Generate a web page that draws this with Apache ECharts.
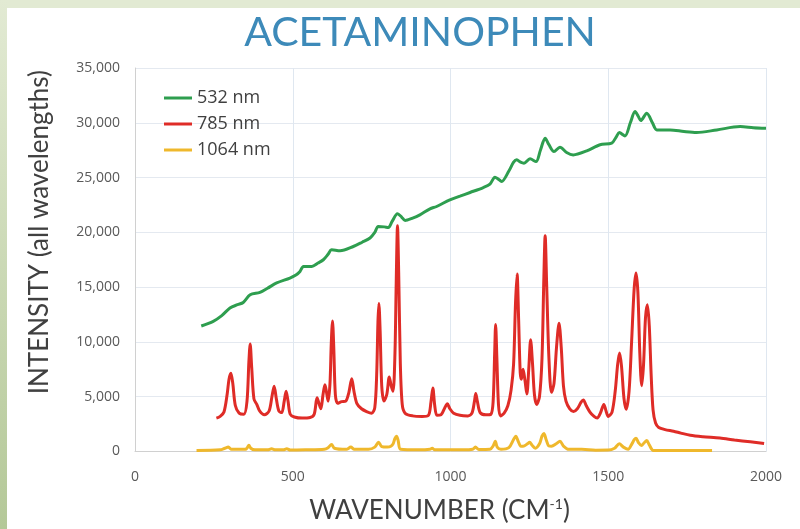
<!DOCTYPE html>
<html>
<head>
<meta charset="utf-8">
<script src="https://cdn.jsdelivr.net/npm/echarts@6/dist/echarts.min.js"></script>
<style>
html,body{margin:0;padding:0;background:#fff;}
#wrap{position:relative;width:800px;height:529px;overflow:hidden;background:#fff;}
#topband{position:absolute;left:0;top:0;width:800px;height:8px;background:#e2ead3;}
#leftband{position:absolute;left:0;top:0;width:7px;height:529px;background:linear-gradient(#e2ead3,#b4c898);}
#chart{position:absolute;left:0;top:0;width:800px;height:529px;}
</style>
</head>
<body>
<div id="wrap"><div id="topband"></div><div id="leftband"></div><div id="chart"></div></div>
<script>
const seriesNames = ['532 nm', '785 nm', '1064 nm'];
const xTicks = [0, 500, 1000, 1500, 2000];
const yTicks = [0, 5000, 10000, 15000, 20000, 25000, 30000, 35000];

const green532 = [[210,11450],[248,11880],[275,12400],[301,13100],[325,13400],[343,13600],[365,14300],[396,14520],[420,14900],[449,15380],[491,15830],[510,16100],[523,16430],[534,16890],[560,16890],[580,17200],[597,17500],[612,18000],[623,18410],[650,18320],[692,18710],[720,19100],[745,19480],[760,20000],[771,20530],[790,20500],[803,20440],[815,21000],[832,21700],[845,21400],[856,21080],[880,21300],[903,21600],[935,22150],[956,22360],[998,22970],[1030,23300],[1062,23640],[1104,24090],[1125,24400],[1141,25040],[1150,24900],[1162,24640],[1185,25600],[1200,26400],[1210,26620],[1222,26400],[1233,26310],[1252,26710],[1271,26460],[1285,27500],[1300,28590],[1312,28000],[1328,27370],[1347,27770],[1368,27290],[1389,27070],[1432,27440],[1474,28000],[1511,28140],[1525,28700],[1535,29110],[1553,28800],[1570,30000],[1585,31020],[1595,30600],[1603,30200],[1622,30870],[1640,30000],[1654,29350],[1696,29350],[1740,29200],[1780,29110],[1844,29350],[1918,29650],[1960,29550],[2000,29500]];

const red785 = [[258,3050],[270,3200],[282,3600],[292,5200],[298,6600],[304,7150],[310,6200],[318,4200],[330,3500],[345,3400],[355,4600],[361,8200],[365,9800],[370,7600],[377,4800],[386,4300],[395,3700],[410,3350],[425,3700],[434,5000],[441,5950],[448,4800],[456,3700],[465,3550],[473,4600],[479,5500],[485,4600],[492,3400],[505,3150],[530,3050],[555,3100],[568,3400],[577,4900],[583,4400],[589,3900],[596,5200],[602,6100],[607,5400],[612,4600],[618,6200],[622,9800],[626,11900],[630,9500],[635,5200],[642,4400],[655,4550],[668,4600],[678,5400],[687,6650],[694,5500],[703,4400],[718,3900],[734,3650],[750,3500],[760,4000],[766,7000],[770,11800],[773,13500],[777,11000],[782,6000],[789,4600],[798,5200],[806,6800],[812,6000],[818,5500],[824,9000],[828,15500],[832,20600],[836,16000],[841,8000],[847,4300],[856,3500],[880,3250],[910,3200],[930,3300],[938,4500],[944,5800],[950,4200],[957,3300],[970,3350],[982,4000],[990,4350],[998,3900],[1010,3500],[1030,3300],[1055,3250],[1068,3500],[1076,4600],[1080,5300],[1085,4600],[1094,3550],[1112,3350],[1128,3400],[1135,4500],[1140,9000],[1143,11600],[1147,8500],[1152,4300],[1158,3250],[1170,3500],[1182,4200],[1192,5600],[1200,8000],[1206,13500],[1211,16200],[1216,12000],[1221,7200],[1225,6600],[1230,7500],[1236,6500],[1242,5250],[1248,7500],[1254,10200],[1260,8000],[1266,5200],[1273,4300],[1282,5000],[1290,8500],[1296,16000],[1300,19700],[1305,15000],[1312,8500],[1320,5400],[1328,6200],[1336,9500],[1344,11700],[1351,9500],[1358,6000],[1366,4600],[1378,3900],[1390,3650],[1402,3900],[1414,4500],[1421,4700],[1430,4200],[1442,3600],[1455,3200],[1465,3050],[1475,3500],[1486,4300],[1493,3700],[1500,3200],[1512,3600],[1522,5500],[1530,8000],[1536,9000],[1542,7800],[1550,4800],[1557,3850],[1566,5500],[1574,10000],[1582,14800],[1588,16300],[1594,14500],[1600,9000],[1606,6000],[1612,8000],[1618,12200],[1624,13400],[1630,11500],[1636,7000],[1642,3800],[1650,2600],[1660,2200],[1680,2000],[1707,1850],[1730,1680],[1760,1480],[1800,1350],[1854,1230],[1900,1050],[1950,880],[1994,720]];

const yellow1064 = [[195,100],[270,150],[285,300],[296,400],[306,200],[350,200],[356,350],[361,580],[367,300],[380,150],[420,150],[433,250],[445,150],[470,150],[481,250],[492,130],[540,150],[600,200],[612,350],[623,640],[632,300],[670,200],[684,400],[695,200],[740,200],[760,400],[772,850],[782,450],[800,400],[811,480],[818,700],[824,1200],[829,1400],[834,1000],[842,200],[900,150],[935,200],[942,300],[950,150],[1040,150],[1070,200],[1079,400],[1090,180],[1125,200],[1135,500],[1142,940],[1148,400],[1160,200],[1185,350],[1200,1100],[1207,1400],[1215,900],[1222,500],[1230,480],[1244,700],[1251,850],[1258,600],[1269,300],[1282,700],[1290,1400],[1296,1640],[1303,1100],[1312,500],[1320,480],[1335,700],[1347,940],[1358,500],[1375,200],[1416,200],[1460,120],[1500,130],[1520,300],[1535,700],[1548,400],[1563,200],[1575,700],[1583,1100],[1588,1200],[1596,800],[1605,550],[1614,800],[1622,1000],[1630,600],[1643,100],[1700,100],[1829,100]];

const colors = ['#2e9e4f', '#df2c27', '#efb82c'];

const chart = echarts.init(document.getElementById('chart'), null, {renderer: 'canvas'});
const mkLine = (name, data, color, z) => ({
  name, type: 'line', data, showSymbol: false, symbol: 'none', smooth: 0.3,
  lineStyle: {color, width: 3}, itemStyle: {color}, z, animation: false
});
chart.setOption({
  backgroundColor: 'transparent',
  animation: false,
  title: {
    text: 'ACETAMINOPHEN', left: 415, top: 7, textAlign: 'center',
    textStyle: {fontFamily: 'Lato', fontSize: 41, fontWeight: 'normal', color: '#3d8ab9'}
  },
  legend: {
    data: seriesNames, orient: 'vertical', left: 159, top: 84,
    icon: 'rect', itemWidth: 28, itemHeight: 3, itemGap: 8,
    textStyle: {fontFamily: 'Open Sans', fontSize: 18, color: '#404040', lineHeight: 18}
  },
  grid: {left: 135, right: 34, top: 68, bottom: 77, containLabel: false},
  xAxis: {
    type: 'value', min: xTicks[0], max: xTicks[xTicks.length - 1], interval: 500,
    name: 'WAVENUMBER (CM{s|-1})', nameLocation: 'middle', nameGap: 46,
    nameTextStyle: {
      fontFamily: 'Lato', fontSize: 26, color: '#404040', padding: [0, 22, 0, 0],
      rich: {s: {fontFamily: 'Lato', fontSize: 14, color: '#404040', padding: [0, 0, 13, 0]}}
    },
    axisLine: {show: true, lineStyle: {color: '#d0d0d0', width: 1}},
    axisTick: {show: false},
    axisLabel: {margin: 19, fontFamily: 'Open Sans', fontSize: 14, color: '#595959', formatter: v => String(v)},
    splitLine: {show: true, lineStyle: {color: '#dfe7f0', width: 1}}
  },
  yAxis: {
    type: 'value', min: yTicks[0], max: yTicks[yTicks.length - 1], interval: 5000,
    axisLine: {show: true, lineStyle: {color: '#d0d0d0', width: 1}},
    axisTick: {show: false},
    axisLabel: {
      margin: 15, fontFamily: 'Open Sans', fontSize: 14, color: '#595959',
      formatter: v => v.toLocaleString('en-US')
    },
    splitLine: {show: true, lineStyle: {color: '#e4e9f0', width: 1}}
  },
  graphic: [{
    type: 'text', left: 27, top: 70,
    rotation: Math.PI / 2,
    style: {
      text: 'INTENSITY (all wavelengths)', fontFamily: 'Lato', fontSize: 26, fill: '#404040'
    }
  }],
  series: [
    mkLine(seriesNames[0], green532, colors[0], 3),
    mkLine(seriesNames[1], red785, colors[1], 2),
    mkLine(seriesNames[2], yellow1064, colors[2], 4)
  ]
});
</script>
</body>
</html>
